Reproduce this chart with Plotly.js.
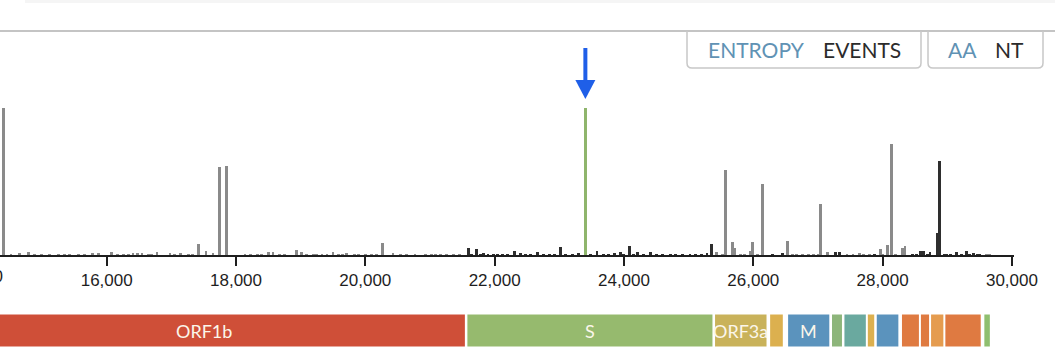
<!DOCTYPE html>
<html>
<head>
<meta charset="utf-8">
<script src="https://cdn.plot.ly/plotly-3.0.1.min.js"></script>
<style>
  html, body { margin: 0; padding: 0; background: #fff; }
  #chart { width: 1055px; height: 361px; }
</style>
</head>
<body>
<div id="chart"></div>
<script>
// ---------- DATA ----------
// Nucleotide positions and event heights, light-grey bars (ORF1b, ORF3a, M, ORF7, ORF8 ... regions)
const lightPos = [14408, 14659, 14798, 15432, 15788, 15866, 16067, 16407, 16469, 16546, 16778, 16979, 17134, 17423, 17536, 17644, 17747, 17858, 18139, 18495, 18572, 18680, 18757, 18939, 19016, 19191, 19330, 19407, 19500, 19716, 20268, 20428, 20768, 20923, 21155, 21356, 25434, 25563, 25676, 25702, 25949, 25985, 26144, 26532, 26671, 27006, 27046, 27151, 27449, 27542, 27640, 27964, 28079, 28144, 28305, 28346, 29610];
const lightVal = [147, 2, 3.3, 1, 2, 2.5, 3.5, 2.5, 2, 2.5, 3.5, 2, 2, 10.7, 4.5, 2.5, 88, 88.7, 1, 3, 3, 1.5, 1.5, 5, 3, 1.5, 1.5, 1.5, 3, 2.5, 11.7, 2, 1.5, 1, 1.5, 1, 3, 85, 13, 7, 4, 13, 71, 14.3, 1.5, 1.5, 51, 3, 1.5, 1.5, 2.5, 6.3, 10, 111, 7, 9.3, 1.5];
// low-level light-grey background bars along the baseline
const lightLowPos = [14520, 14880, 14990, 15120, 15260, 15350, 15560, 15650, 16170, 16260, 16330, 16640, 16700, 17050, 17260, 17330, 18230, 18330, 18400, 19090, 19250, 19580, 19650, 19830, 19900, 20000, 20100, 20180, 20550, 20640, 21020, 21080, 21250, 21450, 25520, 25800, 25870, 26060, 26600, 26760, 26850, 26930, 27700, 27800, 28000, 28200, 29660];
const lightLowVal = [1.2, 1, 1.5, 1, 1.2, 1, 1.5, 1, 1.2, 1, 1.5, 1, 1.2, 1, 1.5, 1, 1.2, 1.5, 1, 1.2, 1, 1.5, 1, 1.2, 1, 1.5, 1, 1.2, 1, 1.5, 1.2, 1, 1.2, 1, 1.5, 1.2, 1, 1.5, 1.2, 1.5, 1, 1.2, 1.5, 1.2, 1.5, 1.2, 1];
// dark bars (S, E, ORF6, N ... regions)
const darkPos = [21592, 21722, 21897, 21975, 22304, 22666, 23011, 23583, 23939, 24083, 24202, 24403, 24712, 25021, 25284, 25357, 26455, 27264, 27331, 27882, 28459, 28589, 28630, 28733, 28846, 28881, 28991, 29146, 29301, 29403, 29506];
const darkVal = [7.5, 6, 1.5, 1.5, 4.3, 3, 8, 4.5, 3, 9, 3, 3.5, 1, 1, 2, 11, 2.5, 3.5, 3, 1.5, 1, 4, 4.5, 3.5, 21.7, 94, 1, 3.5, 4.5, 2.5, 1.5];
// low-level dark background bars along the baseline
const darkLowPos = [21640, 21780, 21830, 22050, 22120, 22200, 22400, 22480, 22560, 22750, 22850, 22930, 23100, 23200, 23300, 23480, 23680, 23760, 23850, 24000, 24150, 24300, 24500, 24600, 24800, 24900, 25100, 25200, 26300, 28520, 28700, 28950, 29050, 29220, 29350, 29460];
const darkLowVal = [1.5, 1.2, 2, 1, 1.5, 1.2, 2, 1, 1.5, 1.2, 1, 1.5, 1.2, 1.5, 2, 1.2, 1.5, 1, 2, 1.2, 1.5, 1, 1.2, 1.5, 1, 1.2, 1.5, 1, 1.2, 1.5, 1.2, 1.5, 1, 1.2, 1.5, 1];
// highlighted position (D614G)
const hlPos = [23403];
const hlVal = [147];

// x-axis ticks
const tickVals = [16000, 18000, 20000, 22000, 24000, 26000, 28000, 30000];
const tickText = ['16,000', '18,000', '20,000', '22,000', '24,000', '26,000', '28,000', '30,000'];
const clippedTick = { value: 14000, text: '14,000' };

// genome annotation
const geneNames  = ['ORF1b', 'S', 'ORF3a', 'E', 'M', 'ORF6', 'ORF7a', 'ORF7b', 'ORF8', 'N', 'ORF9b', 'ORF14', 'ORF10'];
const geneStart  = [13468, 21563, 25393, 26245, 26523, 27202, 27394, 27756, 27894, 28274, 28284, 28734, 29558];
const geneEnd    = [21555, 25384, 26220, 26472, 27191, 27387, 27759, 27887, 28259, 29533, 28577, 28955, 29674];
const geneColors = ['#cf4f38', '#96ba6e', '#c9b25a', '#dcb04f', '#5b93bd', '#8db57a', '#6aa99f', '#dcb04f', '#5b93bd', '#df7a41', '#df7a41', '#e59c4f', '#8fbf6f'];
const geneLabelled = ['ORF1b', 'S', 'ORF3a', 'M'];

// toggle buttons
const toggleLabels = [['ENTROPY', 'EVENTS'], ['AA', 'NT']];

// ---------- LAYOUT HELPERS ----------
const W = 1055, H = 361;
const ML = 0, MR = 41, MT = 31, MB = 106;
const PW = W - ML - MR, PH = H - MT - MB;
const px = X => (X - ML) / PW;           // pixel -> paper x
const py = Y => (H - MB - Y) / PH;       // pixel -> paper y
const xRange = [14350, 30032];
const bpPerPx = (xRange[1] - xRange[0]) / PW;

const BLUE_TXT = '#6092b4', DARK_TXT = '#2b2b2b';
const LIGHT = '#8a8a8a', DARK = '#2e2e2e', HL = '#8fb56c';

const barW = 46;
function barTrace(xs, ys, color) {
  return { type: 'bar', x: xs, y: ys, width: xs.map(() => barW),
    marker: { color: color, line: { width: 0 } }, hoverinfo: 'none', showlegend: false };
}
const traces = [
  barTrace(lightLowPos, lightLowVal, LIGHT),
  barTrace(darkLowPos, darkLowVal, DARK),
  barTrace(lightPos, lightVal, LIGHT),
  barTrace(darkPos, darkVal, DARK),
  barTrace(hlPos, hlVal, HL)
];

const shapes = [];
const annotations = [];

// faint strip at very top and the separator line
shapes.push({ type: 'rect', xref: 'paper', yref: 'paper', x0: px(25), x1: px(W), y0: py(3), y1: py(0),
  fillcolor: '#f5f5f5', line: { width: 0 }, layer: 'below' });
shapes.push({ type: 'line', xref: 'paper', yref: 'paper', x0: px(0), x1: px(W), y0: py(31), y1: py(31),
  line: { color: '#c4c4c4', width: 2 } });

// toggle boxes (rounded bottom corners)
function boxPath(X0, X1, Y0, Y1, r) {
  return `M ${px(X0)},${py(Y0)} L ${px(X0)},${py(Y1 - r)} Q ${px(X0)},${py(Y1)} ${px(X0 + r)},${py(Y1)} ` +
         `L ${px(X1 - r)},${py(Y1)} Q ${px(X1)},${py(Y1)} ${px(X1)},${py(Y1 - r)} L ${px(X1)},${py(Y0)}`;
}
shapes.push({ type: 'path', xref: 'paper', yref: 'paper', path: boxPath(687, 921, 31, 68, 5), line: { color: '#c8c8c8', width: 1.5 } });
shapes.push({ type: 'path', xref: 'paper', yref: 'paper', path: boxPath(928, 1043, 31, 68, 5), line: { color: '#c8c8c8', width: 1.5 } });
const toggleX = [[756, 862], [962.5, 1009]];
toggleLabels.forEach((pair, i) => {
  pair.forEach((t, j) => {
    annotations.push({ xref: 'paper', yref: 'paper', x: px(toggleX[i][j]), y: py(49), text: t, showarrow: false,
      xanchor: 'center', yanchor: 'middle',
      font: { family: 'Lato, sans-serif', size: 21, color: j === 0 ? BLUE_TXT : DARK_TXT } });
  });
});

// arrow pointing at highlighted bar
const arrowX = hlPos[0];
shapes.push({ type: 'line', xref: 'x', yref: 'paper', x0: arrowX, x1: arrowX, y0: py(48), y1: py(84),
  line: { color: '#1f5fe8', width: 4 } });
shapes.push({ type: 'path', xref: 'x', yref: 'paper', fillcolor: '#1f5fe8', line: { width: 0 },
  path: `M ${arrowX - 10 * bpPerPx},${py(80)} L ${arrowX + 10 * bpPerPx},${py(80)} L ${arrowX},${py(99)} Z` });

// tick label of the off-range 14,000 tick, partly visible at the left edge
annotations.push({ xref: 'paper', yref: 'paper',
  x: px((clippedTick.value - xRange[0]) / bpPerPx), y: py(276), text: clippedTick.text,
  showarrow: false, xanchor: 'center', yanchor: 'middle',
  font: { family: 'Liberation Sans, Arial, sans-serif', size: 17, color: '#1e1e1e' } });

// gene blocks
geneNames.forEach((g, i) => {
  shapes.push({ type: 'rect', xref: 'x', yref: 'paper', x0: geneStart[i], x1: geneEnd[i], y0: py(347.5), y1: py(313.5),
    fillcolor: geneColors[i], line: { color: '#ffffff', width: 2 } });
  if (geneLabelled.includes(g)) {
    annotations.push({ xref: 'x', yref: 'paper', x: (geneStart[i] + geneEnd[i]) / 2, y: py(330.5), text: g,
      showarrow: false, xanchor: 'center', yanchor: 'middle',
      font: { family: 'Lato, sans-serif', size: 18, color: '#fbf6ea' } });
  }
});

const layout = {
  width: W, height: H,
  margin: { l: ML, r: MR, t: MT, b: MB, pad: 0 },
  paper_bgcolor: '#ffffff', plot_bgcolor: '#ffffff',
  bargap: 0, barmode: 'overlay',
  showlegend: false,
  xaxis: {
    range: xRange, showgrid: false, zeroline: false,
    showline: true, linecolor: '#1e1e1e', linewidth: 2,
    ticks: 'outside', ticklen: 9, tickwidth: 2, tickcolor: '#1e1e1e',
    tickvals: tickVals, ticktext: tickText,
    tickfont: { family: 'Liberation Sans, Arial, sans-serif', size: 17, color: '#1e1e1e' },
    fixedrange: true
  },
  yaxis: {
    range: [0, PH], showgrid: false, zeroline: false, showline: false,
    showticklabels: false, ticks: '', fixedrange: true
  },
  shapes: shapes,
  annotations: annotations
};

Plotly.newPlot('chart', traces, layout, { displayModeBar: false, staticPlot: true });
</script>
</body>
</html>
